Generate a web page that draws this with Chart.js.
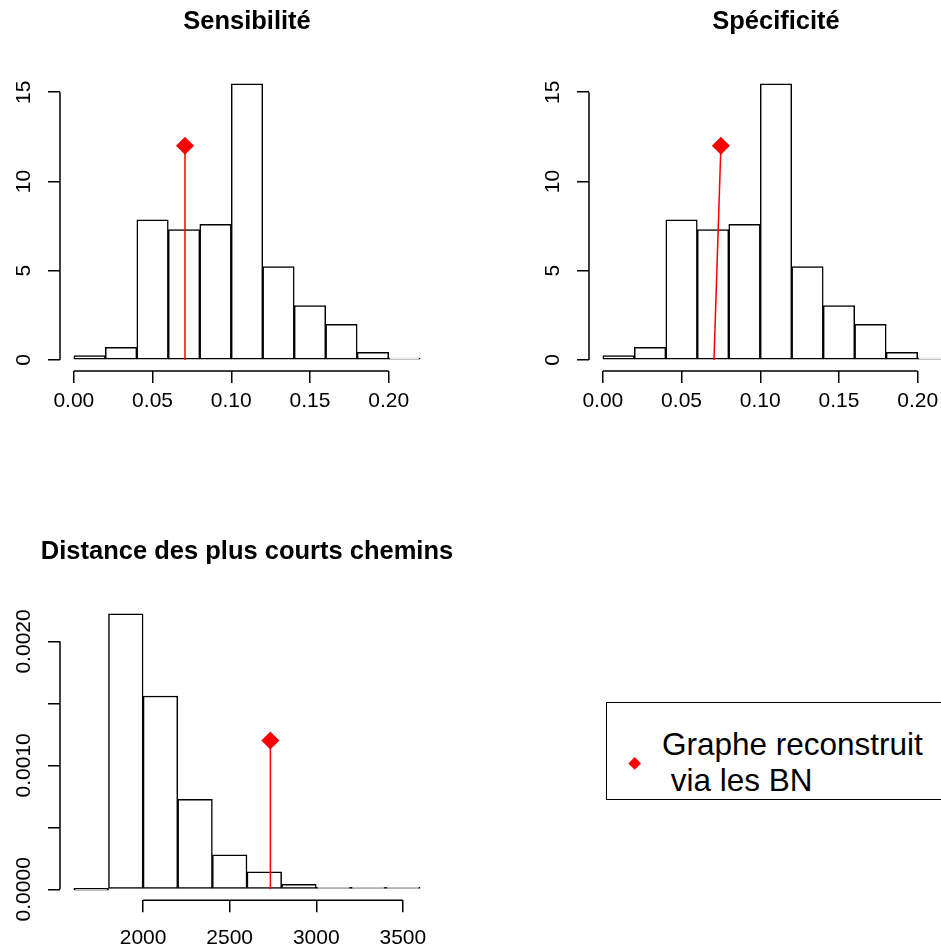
<!DOCTYPE html>
<html lang="fr">
<head>
<meta charset="UTF-8">
<title>Histogrammes</title>
<script src="https://cdn.jsdelivr.net/npm/chart.js"></script>
<style>
  html, body { margin: 0; padding: 0; background: #fff; overflow: hidden; }
  #page { position: relative; width: 941px; height: 950px; overflow: hidden; }
  canvas { position: absolute; }
  #legende {
    position: absolute; left: 606px; top: 702px; width: 400px; height: 98px;
    border: 1px solid #000; box-sizing: border-box;
  }
  #legende .losange {
    position: absolute; left: 22.6px; top: 55.6px; width: 9.4px; height: 9.4px;
    background: #ff0000; transform: rotate(45deg);
  }
  #legende .texte {
    position: absolute; left: 55px; top: 22.5px;
    font: 31.5px "Liberation Sans", Arial, sans-serif; line-height: 36.7px;
    white-space: pre; color: #000;
  }
</style>
</head>
<body>
<div id="page">
  <canvas id="sens" width="494" height="440" style="left:0;top:0"></canvas>
  <canvas id="spec" width="494" height="440" style="left:529px;top:0"></canvas>
  <canvas id="dist" width="494" height="420" style="left:0;top:530px"></canvas>
  <div id="legende">
    <span class="losange"></span>
    <div class="texte">Graphe reconstruit
 via les BN</div>
  </div>
</div>
<script>
// Sensibilité
const sensEdges = [0, 0.02, 0.04, 0.06, 0.08, 0.10, 0.12, 0.14, 0.16, 0.18, 0.20, 0.22];
const sensDensity = [0.24, 0.71, 7.85, 7.31, 7.60, 15.47, 5.23, 3.05, 2.00, 0.43, 0.07];
const sensLineX = [0.0706, 0.0706];
const sensLineY = [0, 12];

// Spécificité
const specEdges = [0, 0.02, 0.04, 0.06, 0.08, 0.10, 0.12, 0.14, 0.16, 0.18, 0.20, 0.22];
const specDensity = [0.24, 0.71, 7.85, 7.31, 7.60, 15.47, 5.23, 3.05, 2.00, 0.43, 0.07];
const specLineX = [0.0706, 0.0750];
const specLineY = [0, 12];

// Distance des plus courts chemins
const distEdges = [1600, 1800, 2000, 2200, 2400, 2600, 2800, 3000, 3200, 3400, 3600];
const distDensity = [0, 0.002223, 0.00156, 0.000725, 0.000279, 0.00014, 0.00004, 0.000016, 0.000008, 0.000003];
const distLineX = [2735, 2735];
const distLineY = [0, 0.0012];

// graduations
const propTicks = [0, 0.05, 0.10, 0.15, 0.20];
const propLabels = ['0.00', '0.05', '0.10', '0.15', '0.20'];
const densTicks = [0, 5, 10, 15];
const densLabels = ['0', '5', '10', '15'];
const distTicks = [2000, 2500, 3000, 3500];
const distLabels = ['2000', '2500', '3000', '3500'];
const distYTicks = [0, 0.0005, 0.0010, 0.0015, 0.0020];
const distYLabels = ['0.0000', '', '0.0010', '', '0.0020'];

const police = '"Liberation Sans", Arial, sans-serif';
const trait = 1.5;

// axes façon R : ligne du premier au dernier tick, étiquettes y tournées
const axesR = {
    id: 'axesR',
    afterDraw(chart, args, opts) {
        const { ctx, chartArea, scales: { x, y } } = chart;
        const xt = x.ticks, yt = y.ticks;
        ctx.save();
        ctx.strokeStyle = '#000';
        ctx.lineWidth = trait;
        ctx.beginPath();
        ctx.moveTo(x.getPixelForValue(xt[0].value), chartArea.bottom);
        ctx.lineTo(x.getPixelForValue(xt[xt.length - 1].value), chartArea.bottom);
        ctx.moveTo(chartArea.left, y.getPixelForValue(yt[0].value));
        ctx.lineTo(chartArea.left, y.getPixelForValue(yt[yt.length - 1].value));
        ctx.stroke();
        ctx.fillStyle = '#000';
        ctx.font = '21px ' + police;
        ctx.textAlign = 'center';
        ctx.textBaseline = 'middle';
        opts.labels.forEach((lab, i) => {
            if (!lab) return;
            ctx.save();
            ctx.translate(chartArea.left - 36, y.getPixelForValue(yt[i].value));
            ctx.rotate(-Math.PI / 2);
            ctx.fillText(lab, 0, 0);
            ctx.restore();
        });
        ctx.restore();
    }
};

function histo(id, o) {
    const canvas = document.getElementById(id);
    const n = o.edges.length - 1;
    const centres = o.edges.slice(0, n).map((e, i) => (e + o.edges[i + 1]) / 2);
    const etendue = o.edges[n] - o.edges[0];
    const hMax = Math.max(...o.density);

    return new Chart(canvas, {
        type: 'bar',
        data: {
            datasets: [
                {
                    type: 'line',
                    order: 0,
                    data: o.lineX.map((x, i) => ({ x: x, y: o.lineY[i] })),
                    borderColor: '#ff0000',
                    borderWidth: 1.5,
                    tension: 0,
                    fill: false,
                    pointRadius: [0, 9],
                    pointStyle: 'rectRot',
                    pointBackgroundColor: '#ff0000',
                    pointBorderColor: '#ff0000',
                    pointBorderWidth: 0
                },
                {
                    type: 'bar',
                    order: 1,
                    data: centres.map((x, i) => ({ x: x, y: o.density[i] })),
                    backgroundColor: '#ffffff',
                    borderColor: '#000000',
                    borderWidth: trait,
                    borderSkipped: false,
                    barPercentage: 1,
                    categoryPercentage: 1,
                    minBarLength: 2
                }
            ]
        },
        options: {
            responsive: false,
            animation: false,
            events: [],
            devicePixelRatio: 1,
            // zone du tracé : x 60..434 (axe fantôme à droite pour centrer le titre)
            layout: { padding: 0 },
            plugins: {
                legend: { display: false },
                tooltip: { enabled: false },
                title: {
                    display: true,
                    text: o.titre,
                    color: '#000',
                    font: { size: 25.5, weight: 'bold', family: police, lineHeight: 1.2 },
                    padding: { top: 6.9, bottom: o.areaTop - 6.9 - 30.6 }
                },
                axesR: { labels: o.yLabels }
            },
            scales: {
                x: {
                    type: 'linear',
                    min: o.edges[0] - 0.04 * etendue,
                    max: o.edges[n] + 0.04 * etendue,
                    offset: false,
                    afterBuildTicks: s => { s.ticks = o.xTicks.map(v => ({ value: v })); },
                    afterFit: s => { s.height = canvas.height - o.areaBottom; },
                    grid: { offset: false, drawOnChartArea: false, tickLength: 12, color: '#000', lineWidth: trait },
                    border: { display: false },
                    ticks: {
                        autoSkip: false,
                        maxRotation: 0,
                        padding: o.xPad,
                        color: '#000',
                        font: { size: 21, family: police },
                        callback: (v, i) => o.xLabels[i]
                    }
                },
                y: {
                    type: 'linear',
                    min: -0.04 * hMax,
                    max: 1.04 * hMax,
                    afterBuildTicks: s => { s.ticks = o.yTicks.map(v => ({ value: v })); },
                    afterFit: s => { s.width = 60; },
                    grid: { drawOnChartArea: false, tickLength: 12, color: '#000', lineWidth: trait },
                    border: { display: false },
                    ticks: { display: false }
                },
                droite: {
                    type: 'linear',
                    position: 'right',
                    afterFit: s => { s.width = 60; },
                    grid: { display: false },
                    border: { display: false },
                    ticks: { display: false }
                }
            }
        },
        plugins: [axesR]
    });
}

histo('sens', {
    titre: 'Sensibilité', edges: sensEdges, density: sensDensity,
    lineX: sensLineX, lineY: sensLineY,
    xTicks: propTicks, xLabels: propLabels, yTicks: densTicks, yLabels: densLabels,
    areaTop: 72.8, areaBottom: 371, xPad: 6
});
histo('spec', {
    titre: 'Spécificité', edges: specEdges, density: specDensity,
    lineX: specLineX, lineY: specLineY,
    xTicks: propTicks, xLabels: propLabels, yTicks: densTicks, yLabels: densLabels,
    areaTop: 72.8, areaBottom: 371, xPad: 6
});
histo('dist', {
    titre: 'Distance des plus courts chemins', edges: distEdges, density: distDensity,
    lineX: distLineX, lineY: distLineY,
    xTicks: distTicks, xLabels: distLabels, yTicks: distYTicks, yLabels: distYLabels,
    areaTop: 72.8, areaBottom: 370.3, xPad: 13
});
</script>
</body>
</html>
